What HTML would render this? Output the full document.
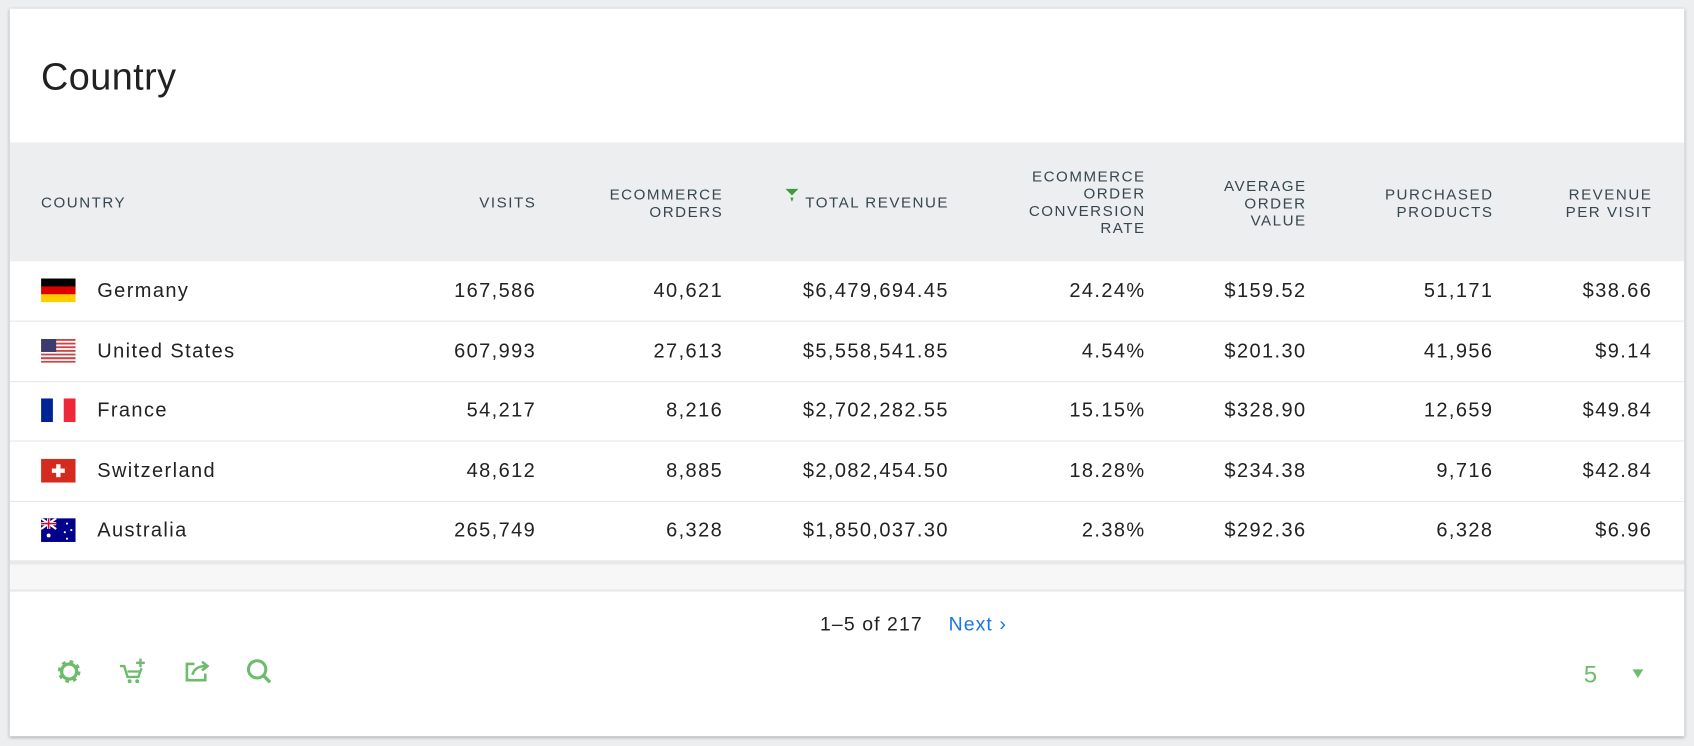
<!DOCTYPE html>
<html><head><meta charset="utf-8"><style>
html,body{margin:0;padding:0;width:1694px;height:746px;overflow:hidden;background:#eceef0;font-family:"Liberation Sans",Arial,sans-serif;}
#wrap{position:absolute;left:0;top:0;width:1568px;height:691px;transform:scale(1.0804,1.0796);transform-origin:0 0;}
.card{position:absolute;left:9px;top:8px;width:1550px;height:674px;background:#fff;box-shadow:0 1px 3px rgba(0,0,0,.3);}
.a{position:absolute;}
.title{left:38px;top:52px;font-size:35px;color:#212121;letter-spacing:0.4px;}
.hband{left:9px;top:132px;width:1550px;height:110px;background:#eceef0;}
.h{font-size:14px;color:#37474f;line-height:16px;text-align:right;letter-spacing:1.4px;margin-right:-1.4px;}
.row{left:9px;width:1550px;height:55px;border-bottom:1px solid #e8e8e8;}
.c{font-size:18.5px;color:#222;text-align:right;top:16px;letter-spacing:1.3px;margin-right:-1.3px;}
.name{font-size:18.5px;color:#222;left:81px;top:16px;letter-spacing:1.3px;}
.flag{left:29px;top:16px;width:32px;height:22px;}
</style></head><body>
<div id="wrap">
<div class="card"></div>
<div class="a title">Country</div>
<div class="a hband"></div>
<div class="a h" style="left:38px;top:179px;text-align:left">COUNTRY</div>
<div class="a h" style="right:1073px;top:179px">VISITS</div>
<div class="a h" style="right:900px;top:172px">ECOMMERCE<br>ORDERS</div>
<div class="a h" style="right:691px;top:179px"><svg width="16" height="14" viewBox="0 0 16 14" style="position:absolute;left:-20px;top:-5px"><polygon points="2,1 14,1 8,7" fill="#3a9d3a"/><polygon points="6.5,9 9.5,9 8,13" fill="#3a9d3a"/></svg>TOTAL REVENUE</div>
<div class="a h" style="right:509px;top:155px">ECOMMERCE<br>ORDER<br>CONVERSION<br>RATE</div>
<div class="a h" style="right:360px;top:164px">AVERAGE<br>ORDER<br>VALUE</div>
<div class="a h" style="right:187px;top:172px">PURCHASED<br>PRODUCTS</div>
<div class="a h" style="right:40px;top:172px">REVENUE<br>PER VISIT</div>
<div id="rows"></div>
<div class="a" style="left:9px;top:520px;width:1550px;height:3px;background:#e8e8e8"></div>
<div class="a" style="left:9px;top:523px;width:1550px;height:23px;background:#f7f7f7"></div>
<div class="a" style="left:9px;top:546px;width:1550px;height:2px;background:#e8e8e8"></div>
<div class="a" style="left:759px;top:568px;font-size:18px;color:#222;letter-spacing:1px">1–5 of 217</div>
<div class="a" style="left:878px;top:568px;font-size:18px;color:#1a73e8;letter-spacing:1px">Next ›</div>
<svg class="a" style="left:52px;top:610px" width="24" height="24" viewBox="0 0 24 24"><circle cx="12" cy="12" r="8" fill="none" stroke="#6dbb6d" stroke-width="5" stroke-dasharray="3 3.3"/><circle cx="12" cy="12" r="7" fill="none" stroke="#6dbb6d" stroke-width="3"/></svg>
<svg class="a" style="left:110px;top:609px" width="26" height="26" viewBox="0 0 26 26"><path d="M1 8h4l3 10h10l3-8" fill="none" stroke="#6dbb6d" stroke-width="2.2"/><line x1="8" y1="13" x2="19" y2="13" stroke="#6dbb6d" stroke-width="2"/><circle cx="10" cy="22" r="1.8" fill="#6dbb6d"/><circle cx="17" cy="22" r="1.8" fill="#6dbb6d"/><path d="M20 1v8M16 5h8" stroke="#6dbb6d" stroke-width="2.2"/></svg>
<svg class="a" style="left:170px;top:610px" width="26" height="24" viewBox="0 0 26 24"><path d="M10 5H3v15h17v-6" fill="none" stroke="#6dbb6d" stroke-width="2.4"/><path d="M8 15c2-6 6-8 12-8M17 3l5 4-5 4" fill="none" stroke="#6dbb6d" stroke-width="2.4"/></svg>
<svg class="a" style="left:227px;top:609px" width="26" height="26" viewBox="0 0 26 26"><circle cx="11" cy="11" r="8" fill="none" stroke="#6dbb6d" stroke-width="2.8"/><line x1="17" y1="17" x2="23" y2="23" stroke="#6dbb6d" stroke-width="3"/></svg>
<div class="a" style="left:1466px;top:612px;font-size:22px;color:#6dbb6d">5</div>
<svg class="a" style="left:1510px;top:619px" width="12" height="10" viewBox="0 0 12 10"><polygon points="1,1 11,1 6,9" fill="#6dbb6d"/></svg>
</div>
<script>
const countries=["Germany","United States","France","Switzerland","Australia"];
const visits=["167,586","607,993","54,217","48,612","265,749"];
const orders=["40,621","27,613","8,216","8,885","6,328"];
const revenue=["$6,479,694.45","$5,558,541.85","$2,702,282.55","$2,082,454.50","$1,850,037.30"];
const convRate=["24.24%","4.54%","15.15%","18.28%","2.38%"];
const aov=["$159.52","$201.30","$328.90","$234.38","$292.36"];
const purchased=["51,171","41,956","12,659","9,716","6,328"];
const rpv=["$38.66","$9.14","$49.84","$42.84","$6.96"];
const flags=[
'<rect width="32" height="7.4" fill="#000"/><rect y="7.3" width="32" height="7.4" fill="#dd0000"/><rect y="14.6" width="32" height="7.4" fill="#ffce00"/>',
'<rect width="32" height="22" fill="#fff"/>'+[0,2,4,6,8,10].map(i=>'<rect y="'+(i*22/13*1+i*0)+'" width="32" height="1.7" fill="#c44"/>').join('')+'<rect y="17" width="32" height="1.7" fill="#c44"/><rect y="20.3" width="32" height="1.7" fill="#c44"/><rect width="14" height="12" fill="#3c3b6e"/>',
'<rect width="11" height="22" fill="#002395"/><rect x="11" width="10" height="22" fill="#fff"/><rect x="21" width="11" height="22" fill="#ed2939"/>',
'<rect width="32" height="22" fill="#d52b1e"/><rect x="14" y="5" width="4" height="12" fill="#fff"/><rect x="10" y="9" width="12" height="4" fill="#fff"/>',
'<rect width="32" height="22" fill="#00008b"/><rect width="14" height="10" fill="#00008b"/><path d="M0 0L14 10M14 0L0 10" stroke="#fff" stroke-width="2"/><path d="M7 0v10M0 5h14" stroke="#fff" stroke-width="3"/><path d="M7 0v10M0 5h14" stroke="#c8102e" stroke-width="1.5"/><circle cx="7" cy="16" r="1.8" fill="#fff"/><circle cx="24" cy="5" r="1" fill="#fff"/><circle cx="28" cy="11" r="1" fill="#fff"/><circle cx="22" cy="13" r="1" fill="#fff"/><circle cx="24" cy="19" r="1" fill="#fff"/>'
];
const rights=[1073,900,691,509,360,187,40];
const cols=[visits,orders,revenue,convRate,aov,purchased,rpv];
const colNames=['visits','orders','revenue','conversion-rate','average-order-value','purchased-products','revenue-per-visit'];
const host=document.getElementById('rows');
countries.forEach((c,i)=>{
  const top=242+i*55.6;
  const r=document.createElement('div');
  r.className='a row';r.style.top=top+'px';
  
  
  let h='<svg class="a flag" viewBox="0 0 32 22">'+flags[i]+'</svg>';
  h+='<div class="a name">'+c+'</div>';
  cols.forEach((arr,j)=>{h+='<div class="a c" style="right:'+(rights[j]-9)+'px">'+arr[i]+'</div>';});
  r.innerHTML=h;
  host.appendChild(r);
});
</script>
</body></html>
